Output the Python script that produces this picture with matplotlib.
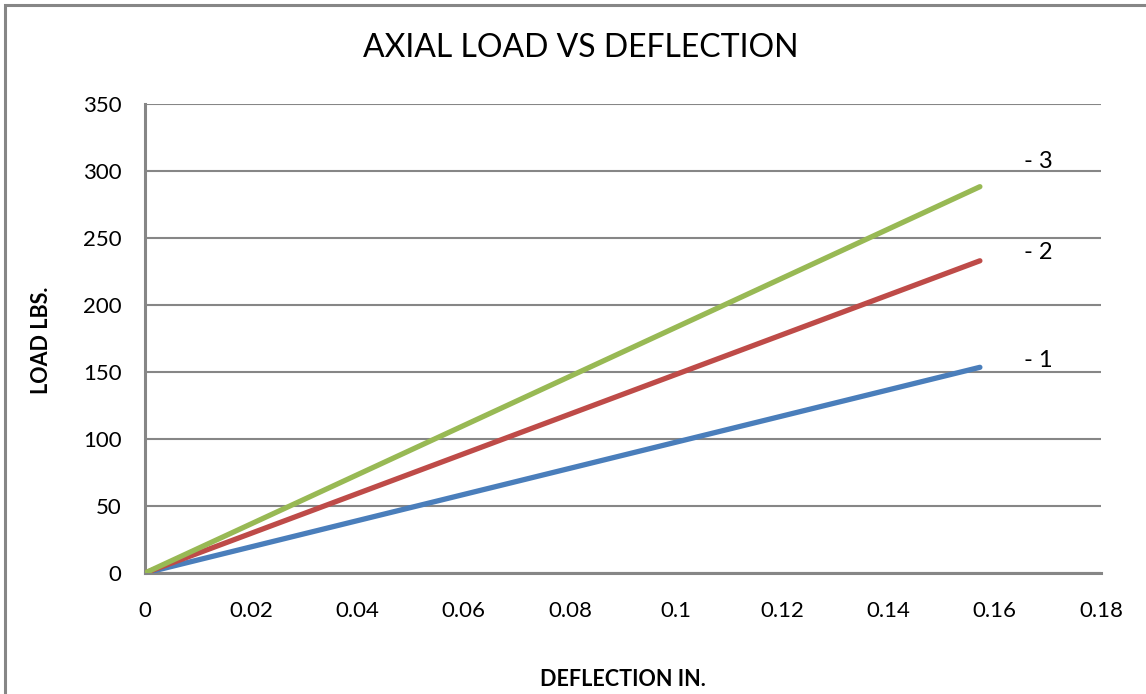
import matplotlib
matplotlib.use('Agg')
import matplotlib.pyplot as plt
from matplotlib.patches import Rectangle

plt.rcParams['font.family'] = ['Lato', 'DejaVu Sans']

# 数据：两端点（起点和终点）
deflection = [0.0, 0.1572]
load_1 = [0.0, 153.5]
load_2 = [0.0, 233.0]
load_3 = [0.0, 288.3]
series_names = ['- 1', '- 2', '- 3']
x_ticks = [0, 0.02, 0.04, 0.06, 0.08, 0.1, 0.12, 0.14, 0.16, 0.18]
x_tick_labels = ['0', '0.02', '0.04', '0.06', '0.08', '0.1', '0.12', '0.14', '0.16', '0.18']
y_ticks = [0, 50, 100, 150, 200, 250, 300, 350]

colors = ['#4A7EBB', '#BE4B48', '#98B954']
grid_color = '#868686'

fig = plt.figure(figsize=(11.46, 6.94), dpi=100)
ax = fig.add_axes([145 / 1146, 1 - 573 / 694, (1101 - 145) / 1146, (573 - 104) / 694])

# 外框
fig.patches.append(Rectangle((5 / 1146, -0.1), 1.2, 1 - 5 / 694 + 0.1,
                             transform=fig.transFigure, fill=False,
                             edgecolor=grid_color, linewidth=2.2, zorder=0))

label_offsets = [(32, 5), (32, 6), (32, 18)]
for loads, name, c, off in zip([load_1, load_2, load_3], series_names, colors, label_offsets):
    ax.plot(deflection, loads, color=c, linewidth=3.8, solid_capstyle='round', zorder=3)
    ax.annotate(name, (deflection[-1], loads[-1]), textcoords='offset points',
                xytext=off, ha='left', va='center', fontsize=17, color='black')

ax.set_xlim(0, 0.18)
ax.set_ylim(0, 350)
ax.set_xticks(x_ticks)
ax.set_xticklabels(x_tick_labels)
ax.set_yticks(y_ticks)
ax.tick_params(axis='both', length=0, labelsize=16, pad=20)
ax.tick_params(axis='y', pad=17)

ax.grid(axis='y', color=grid_color, linewidth=1.5)
ax.set_axisbelow(True)
for s in ['top', 'right']:
    ax.spines[s].set_visible(False)
for s in ['left', 'bottom']:
    ax.spines[s].set_color(grid_color)
    ax.spines[s].set_linewidth(2.2)

fig.text(581 / 1146, 1 - 48 / 694, 'AXIAL LOAD VS DEFLECTION', ha='center', va='center', fontsize=23)
fig.text(623 / 1146, 1 - 680 / 694, 'DEFLECTION IN.', ha='center', va='center',
         fontsize=15.5, fontweight='bold')
fig.text(42 / 1146, 1 - 340 / 694, 'LOAD LBS.', ha='center', va='center',
         fontsize=15.5, fontweight='bold', rotation=90)

fig.savefig('out.png', dpi=100)
